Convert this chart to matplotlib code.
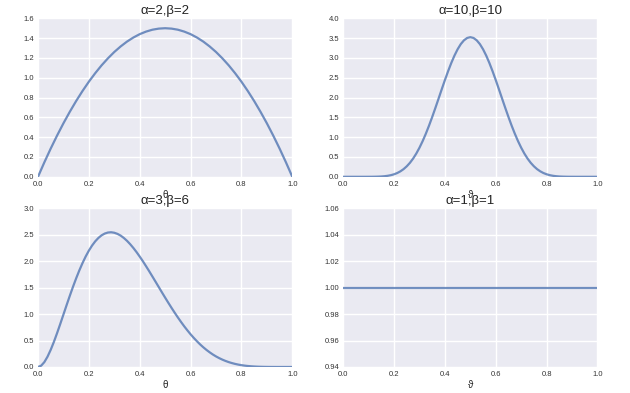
import matplotlib
matplotlib.use("Agg")
import matplotlib.pyplot as plt

plt.rcParams['font.family'] = ['Liberation Sans', 'DejaVu Sans']

theta = [0.0, 0.025, 0.05, 0.075, 0.1, 0.125, 0.15, 0.175, 0.2, 0.225,
         0.25, 0.275, 0.3, 0.325, 0.35, 0.375, 0.4, 0.425, 0.45, 0.475,
         0.5, 0.525, 0.55, 0.575, 0.6, 0.625, 0.65, 0.675, 0.7, 0.725,
         0.75, 0.775, 0.8, 0.825, 0.85, 0.875, 0.9, 0.925, 0.95, 0.975, 1.0]

theta_fine = [0.0, 0.0125, 0.025, 0.0375, 0.05, 0.0625, 0.075, 0.0875, 0.1, 0.1125,
              0.125, 0.1375, 0.15, 0.1625, 0.175, 0.1875, 0.2, 0.2125, 0.225, 0.2375,
              0.25, 0.2625, 0.275, 0.2875, 0.3, 0.3125, 0.325, 0.3375, 0.35, 0.3625,
              0.375, 0.3875, 0.4, 0.4125, 0.425, 0.4375, 0.45, 0.4625, 0.475, 0.4875,
              0.5, 0.5125, 0.525, 0.5375, 0.55, 0.5625, 0.575, 0.5875, 0.6, 0.6125,
              0.625, 0.6375, 0.65, 0.6625, 0.675, 0.6875, 0.7, 0.7125, 0.725, 0.7375,
              0.75, 0.7625, 0.775, 0.7875, 0.8, 0.8125, 0.825, 0.8375, 0.85, 0.8625,
              0.875, 0.8875, 0.9, 0.9125, 0.925, 0.9375, 0.95, 0.9625, 0.975, 0.9875, 1.0]

beta_2_2 = [0.0, 0.146, 0.285, 0.416, 0.54, 0.656, 0.765, 0.866, 0.96, 1.046,
            1.125, 1.196, 1.26, 1.316, 1.365, 1.406, 1.44, 1.466, 1.485, 1.496,
            1.5, 1.496, 1.485, 1.466, 1.44, 1.406, 1.365, 1.316, 1.26, 1.196,
            1.125, 1.046, 0.96, 0.866, 0.765, 0.656, 0.54, 0.416, 0.285, 0.146, 0.0]

beta_10_10 = [0.0, 0.0, 0.0, 0.0, 0.0, 0.0, 0.0, 0.0, 0.0004, 0.0009,
              0.0021, 0.0043, 0.0082, 0.0148, 0.0252, 0.0408, 0.0635, 0.0951, 0.138, 0.1935,
              0.265, 0.3528, 0.46, 0.5866, 0.734, 0.9009, 1.087, 1.2902, 1.508, 1.7366,
              1.971, 2.2079, 2.441, 2.6637, 2.871, 3.0581, 3.219, 3.3496, 3.445, 3.5039,
              3.524, 3.5039, 3.445, 3.3496, 3.219, 3.0581, 2.871, 2.6637, 2.441, 2.2079,
              1.971, 1.7366, 1.508, 1.2902, 1.087, 0.9009, 0.734, 0.5866, 0.46, 0.3528,
              0.265, 0.1935, 0.138, 0.0951, 0.0635, 0.0408, 0.0252, 0.0148, 0.0082, 0.0043,
              0.0021, 0.0009, 0.0004, 0.0, 0.0, 0.0, 0.0, 0.0, 0.0, 0.0, 0.0]

beta_3_6 = [0.0, 0.0247, 0.0925, 0.1952, 0.325, 0.4752, 0.64, 0.8138, 0.992, 1.1708,
            1.346, 1.516, 1.677, 1.8278, 1.966, 2.0915, 2.202, 2.2977, 2.378, 2.4425,
            2.492, 2.5257, 2.545, 2.5501, 2.541, 2.5195, 2.487, 2.4423, 2.388, 2.3244,
            2.253, 2.1748, 2.09, 2.0011, 1.907, 1.811, 1.712, 1.6121, 1.512, 1.4114,
            1.3125, 1.2152, 1.12, 1.0274, 0.938, 0.8522, 0.77, 0.6927, 0.619, 0.5507,
            0.487, 0.4274, 0.373, 0.323, 0.278, 0.2366, 0.2, 0.1677, 0.139, 0.114,
            0.0923, 0.0739, 0.0582, 0.0452, 0.0344, 0.0257, 0.0188, 0.0134, 0.0092, 0.0061,
            0.0039, 0.0024, 0.0014, 0.0007, 0.0003, 0.0001, 0.0, 0.0, 0.0, 0.0, 0.0]

uniform_x = [0.0, 1.0]
uniform_y = [1.0, 1.0]

titles = ['α=2,β=2', 'α=10,β=10', 'α=3,β=6', 'α=1,β=1']
xlabels = ['θ', 'ϑ', 'θ', 'ϑ']
xticks = [0.0, 0.2, 0.4, 0.6, 0.8, 1.0]
yticks_list = [
    [0.0, 0.2, 0.4, 0.6, 0.8, 1.0, 1.2, 1.4, 1.6],
    [0.0, 0.5, 1.0, 1.5, 2.0, 2.5, 3.0, 3.5, 4.0],
    [0.0, 0.5, 1.0, 1.5, 2.0, 2.5, 3.0],
    [0.94, 0.96, 0.98, 1.00, 1.02, 1.04, 1.06],
]
yfmt = ['{:.1f}', '{:.1f}', '{:.1f}', '{:.2f}']

series = [(theta, beta_2_2), (theta_fine, beta_10_10),
          (theta_fine, beta_3_6), (uniform_x, uniform_y)]

fig, axes = plt.subplots(2, 2, figsize=(6.3, 3.93), dpi=100)
fig.subplots_adjust(left=0.0603, right=0.9484, top=0.9534, bottom=0.0662,
                    wspace=0.2, hspace=0.2)

line_color = '#4C72B0'
for i, ax in enumerate(axes.flat):
    ax.set_facecolor('#EAEAF2')
    ax.set_axisbelow(True)
    ax.grid(True, color='white', linewidth=1.0)
    for sp in ax.spines.values():
        sp.set_visible(False)
    xs, ys = series[i]
    ax.plot(xs, ys, color=line_color, alpha=0.78, linewidth=1.6)
    ax.set_xlim(0, 1)
    yt = yticks_list[i]
    ax.set_ylim(yt[0], yt[-1])
    ax.set_xticks(xticks)
    ax.set_xticklabels(['{:.1f}'.format(v) for v in xticks])
    ax.set_yticks(yt)
    ax.set_yticklabels([yfmt[i].format(v) for v in yt])
    ax.tick_params(length=0, labelsize=5.5, colors='#333333', pad=3)
    ax.set_title(titles[i], fontsize=9.5, pad=3, color='#222222')
    ax.set_xlabel(xlabels[i], fontsize=7, labelpad=1.5, color='#222222')

fig.savefig('out.png', dpi=100)
